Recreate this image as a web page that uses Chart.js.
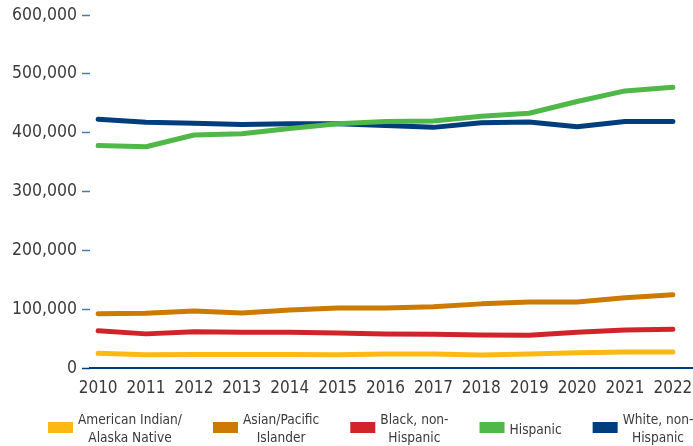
<!DOCTYPE html>
<html><head><meta charset="utf-8">
<script src="https://cdn.jsdelivr.net/npm/chart.js@4.4.1/dist/chart.umd.min.js"></script>
<style>html,body{margin:0;padding:0;background:#fff;}#wrap{width:693px;height:446px;position:relative;}</style>
</head><body><div id="wrap"><canvas id="c"></canvas></div>
<script>
const years = [2010,2011,2012,2013,2014,2015,2016,2017,2018,2019,2020,2021,2022];
const yTicks = [0,100000,200000,300000,400000,500000,600000];
const seriesNames = ["American Indian/\nAlaska Native","Asian/Pacific\nIslander","Black, non-\nHispanic","Hispanic","White, non-\nHispanic"];
const seriesColors = ["#FDB913","#CC7A00","#D2232B","#50B848","#003D7C"];
const amIndian = [25000,22700,23000,23000,23000,22700,23800,23800,22000,24000,26000,27000,27000];
const asianPI  = [92000,93000,97000,93500,98600,102000,102000,104000,109000,112000,112000,119500,124600];
const black    = [63500,58000,61700,60600,60600,59500,57800,57300,56000,55500,60600,64600,65700];
const hispanic = [378000,376000,396000,398000,407000,415000,419000,420000,428000,433000,453000,471000,477000];
const white    = [423000,417600,416000,414000,415000,415000,412000,409000,417000,418000,410000,419000,419000];
const seriesValues = [amIndian, asianPI, black, hispanic, white];

const FONT = '"Liberation Sans Narrow", "DejaVu Sans Condensed", "Liberation Sans", sans-serif';
const TEXT = '#3a3a3a';
const NAVY = '#003D7C';

const legendPlugin = {
  id: 'customLegend',
  afterDraw(chart) {
    const ctx = chart.ctx;
    ctx.save();
    ctx.font = '13.6px ' + FONT;
    ctx.textAlign = 'center';
    ctx.textBaseline = 'alphabetic';
    let x = 48;
    chart.data.datasets.forEach((ds, i) => {
      const lines = seriesNames[i].split('\n');
      const w = Math.max(...lines.map(l => ctx.measureText(l).width));
      ctx.fillStyle = ds.borderColor;
      ctx.fillRect(x, 422, 25, 11);
      ctx.fillStyle = TEXT;
      const cx = x + 30 + w / 2;
      if (lines.length === 1) {
        ctx.fillText(lines[0], cx, 434);
      } else {
        ctx.fillText(lines[0], cx, 423.5);
        ctx.fillText(lines[1], cx, 441.5);
      }
      x = x + 30 + w + 31;
    });
    ctx.restore();
  }
};

new Chart(document.getElementById('c'), {
  type: 'line',
  data: {
    datasets: seriesValues.map((vals, i) => ({
      label: seriesNames[i].replace('\n', ' '),
      data: years.map((yr, j) => ({ x: yr, y: vals[j] })),
      borderColor: seriesColors[i],
      backgroundColor: seriesColors[i],
      borderWidth: 5,
      pointRadius: 0,
      tension: 0,
      borderCapStyle: 'round',
      borderJoinStyle: 'round',
      fill: false
    }))
  },
  options: {
    responsive: true,
    maintainAspectRatio: false,
    animation: false,
    layout: { padding: { top: 15, right: 0, bottom: 48, left: 0 } },
    plugins: { legend: { display: false }, tooltip: { enabled: false } },
    scales: {
      x: {
        type: 'linear',
        min: 2009.83,
        max: 2022.42,
        afterBuildTicks: s => { s.ticks = years.map(v => ({ value: v })); },
        afterFit: s => { s.height = 30; s.paddingLeft = 0; s.paddingRight = 0; },
        grid: { display: false, drawTicks: false },
        border: { display: true, color: NAVY, width: 2 },
        ticks: {
          padding: 10,
          color: TEXT,
          font: { family: FONT, size: 17 },
          maxRotation: 0,
          autoSkip: false,
          callback: v => String(v)
        }
      },
      y: {
        min: 0,
        max: 600000,
        afterBuildTicks: s => { s.ticks = yTicks.map(v => ({ value: v })); },
        afterFit: s => { s.width = 90; s.paddingTop = 0; s.paddingBottom = 0; },
        grid: {
          drawOnChartArea: false,
          drawTicks: true,
          tickLength: 8,
          tickWidth: 1.5,
          color: c => (c.tick && c.tick.value === 0) ? NAVY : '#4a78b0'
        },
        border: { display: false },
        ticks: {
          padding: 5,
          color: TEXT,
          font: { family: FONT, size: 17.5 },
          callback: v => v.toLocaleString('en-US')
        }
      }
    }
  },
  plugins: [legendPlugin]
});
</script>
</body></html>
